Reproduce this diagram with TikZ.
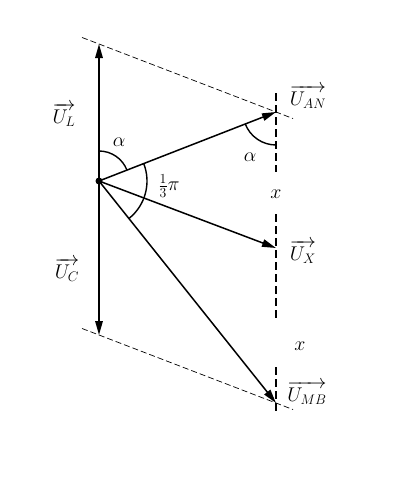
\documentclass[tikz,border=0pt]{standalone}
\usetikzlibrary{arrows.meta,calc}
\begin{document}
\begin{tikzpicture}[x=1pt,y=-1pt,
  vec/.style={line width=1.5pt,-{Triangle[length=14pt,width=7.5pt]}},
  guide/.style={line width=0.7pt,dash pattern=on 6pt off 3pt},
  vdash/.style={line width=1.6pt,dash pattern=on 8pt off 4pt},
  arcline/.style={line width=1.4pt},
  lbl/.style={font=\fontsize{17.28}{20}\selectfont,inner sep=0pt,scale=1.15,transform shape}]
\useasboundingbox (0,0) rectangle (406,490);
\coordinate (O) at (99,181);
\coordinate (L) at (99,44);
\coordinate (C) at (99,335);
\coordinate (A) at (276,112);
\coordinate (X) at (276,248);
\coordinate (B) at (276,403);
% guides
\draw[guide] ($(L)!-0.096!(A)$) -- ($(L)!1.096!(A)$);
\draw[guide] ($(C)!-0.096!(B)$) -- ($(C)!1.096!(B)$);
\coordinate (v1) at (276,93);
\coordinate (v2) at (276,172);
\coordinate (v3) at (276,214);
\coordinate (v4) at (276,320);
\coordinate (v5) at (276,367);
\coordinate (v6) at (276,413);
\draw[vdash] (v1) -- (v2);
\draw[vdash] (v3) -- (v4);
\draw[vdash] (v5) -- (v6);
% vectors
\draw[vec] (O) -- (L);
\draw[vec] (O) -- (C);
\draw[vec] (O) -- (A);
\draw[vec] (O) -- (X);
\draw[vec] (O) -- (B);
\fill (O) circle (3.5pt);
% arcs (angles in the y-down frame)
\draw[arcline] ($(O)+(-90:30)$) arc[start angle=-90,end angle=-21.3,radius=30];
\draw[arcline] ($(O)+(-21.3:48)$) arc[start angle=-21.3,end angle=51.4,radius=48];
\draw[arcline] ($(A)+(158.7:33)$) arc[start angle=158.7,end angle=90,radius=33];
% labels
\node[lbl] (tL) at (64,115) {$\overrightarrow{U_L}$};
\node[lbl] (tC) at (67,270) {$\overrightarrow{U_C}$};
\node[lbl] (tA) at (308,97) {$\overrightarrow{U_{AN}}$};
\node[lbl] (tX) at (303,252) {$\overrightarrow{U_X}$};
\node[lbl] (tB) at (307,393) {$\overrightarrow{U_{MB}}$};
\node[lbl] (a1) at (119,142) {$\alpha$};
\node[lbl] (a2) at (250,157) {$\alpha$};
\node[lbl] (pi) at (169,186) {$\frac{1}{3}\pi$};
\node[lbl] (x1) at (276,194) {$x$};
\node[lbl] (x2) at (300,346) {$x$};
\end{tikzpicture}
\end{document}
